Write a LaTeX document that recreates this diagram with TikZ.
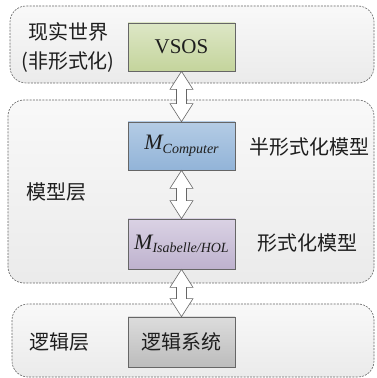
\documentclass[tikz,border=0pt]{standalone}
\usepackage{fontspec}
\setmainfont{Liberation Serif}
\newfontfamily\tnr{Liberation Serif}
\newfontfamily\cjk{Noto Sans CJK SC}
\usetikzlibrary{calc}
\definecolor{txt}{HTML}{1E1E1E}
\definecolor{edge}{HTML}{666666}
\definecolor{gtop}{RGB}{221,231,198}
\definecolor{gbot}{RGB}{196,212,156}
\definecolor{btop}{RGB}{180,204,229}
\definecolor{bbot}{RGB}{146,180,216}
\definecolor{ptop}{RGB}{218,210,228}
\definecolor{pbot}{RGB}{190,178,206}
\definecolor{ytop}{RGB}{220,220,220}
\definecolor{ybot}{RGB}{188,188,188}
\tikzset{
  layer/.style={draw=edge, dashed, dash pattern=on 2pt off 1.2pt, line width=0.6pt, rounded corners=16pt,
    top color=gray!5, bottom color=gray!16, minimum width=#1, inner sep=0pt},
  box/.style={draw=edge, line width=0.7pt, minimum width=107pt, minimum height=48pt, inner sep=0pt, text=txt},
  lbl/.style={text=txt, font=\cjk\fontsize{20}{29}\selectfont, align=center, inner sep=0pt},
  mlbl/.style={text=txt, font=\tnr\itshape\fontsize{22}{22}\selectfont},
  arr/.style={draw=edge, fill=white, line width=0.6pt, line join=miter},
}
\newcommand{\subtxt}[1]{\raisebox{-3.5pt}{\fontsize{14}{15}\selectfont #1}}
\begin{document}
\begin{tikzpicture}[x=1pt,y=1pt]
\useasboundingbox (0,0) rectangle (376,378);
% layers
\node[layer=364pt, minimum height=77pt] (L1) at (192,333.5) {};
\node[layer=366pt, minimum height=183pt] (L2) at (191,186.5) {};
\node[layer=362pt, minimum height=73pt] (L3) at (193,37.5) {};
% boxes
\node[box, top color=gtop, bottom color=gbot, font=\tnr\fontsize{21}{22}\selectfont] (vsos) at (181.5,331) {VSOS};
\node[box, top color=btop, bottom color=bbot, mlbl] (mc) at (181.5,232) {M\subtxt{Computer}};
\node[box, minimum height=50pt, top color=ptop, bottom color=pbot, mlbl] (mi) at (181.5,134) {M\subtxt{Isabelle/HOL}};
\node[box, minimum height=50pt, top color=ytop, bottom color=ybot, lbl] (ls) at (181.5,36) {逻辑系统};
% labels
\node[lbl] (t1) at (68,330.5) {现实世界\\(非形式化)};
\node[lbl] (t2) at (57,186) {模型层};
\node[lbl] (t3) at (309,231) {半形式化模型};
\node[lbl] (t4) at (307,135) {形式化模型};
\node[lbl] (t5) at (60,36) {逻辑层};
% double arrows
\newcommand{\dblarr}[2]{%
  \draw[arr] (#1.south) -- ++(11.5,-18) -- ++(-6.5,0) -- ($(#2.north)+(5,18)$) -- ++(6.5,0) -- (#2.north)
    -- ++(-11.5,18) -- ++(6.5,0) -- ($(#1.south)+(-5,-18)$) -- ++(-6.5,0) -- cycle;}
\dblarr{vsos}{mc}
\dblarr{mc}{mi}
\dblarr{mi}{ls}
\end{tikzpicture}
\end{document}
